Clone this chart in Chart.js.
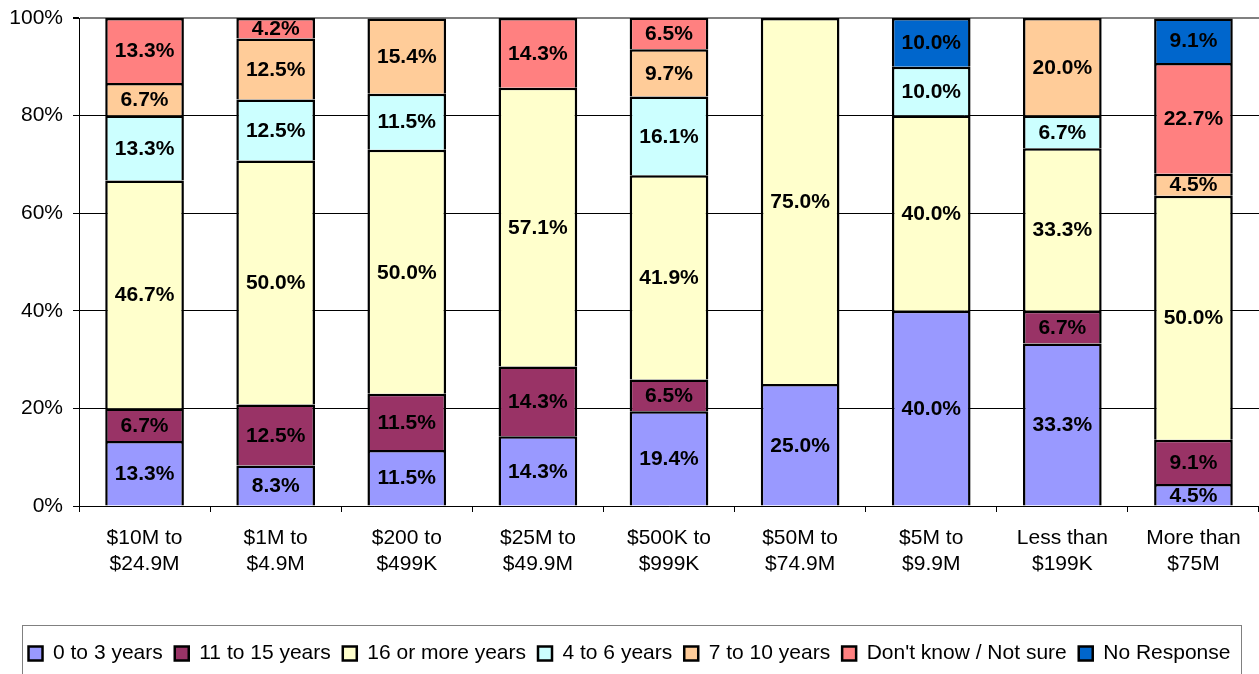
<!DOCTYPE html>
<html>
<head>
<meta charset="utf-8">
<script src="https://cdn.jsdelivr.net/npm/chart.js@4.4.0/dist/chart.umd.min.js"></script>
<style>
  body { margin: 0; background: #fff; }
  #wrap { width: 1259px; height: 674px; }
</style>
</head>
<body>
<div id="wrap"><canvas id="chart"></canvas></div>
<script>
const categories = [
    ['$10M to', '$24.9M'], ['$1M to', '$4.9M'], ['$200 to', '$499K'],
    ['$25M to', '$49.9M'], ['$500K to', '$999K'], ['$50M to', '$74.9M'],
    ['$5M to', '$9.9M'], ['Less than', '$199K'], ['More than', '$75M']
];

const years0to3   = [13.3, 8.3, 11.5, 14.3, 19.4, 25.0, 40.0, 33.3, 4.5];
const years11to15 = [6.7, 12.5, 11.5, 14.3, 6.5, 0, 0, 6.7, 9.1];
const years16plus = [46.7, 50.0, 50.0, 57.1, 41.9, 75.0, 40.0, 33.3, 50.0];
const years4to6   = [13.3, 12.5, 11.5, 0, 16.1, 0, 10.0, 6.7, 0];
const years7to10  = [6.7, 12.5, 15.4, 0, 9.7, 0, 0, 20.0, 4.5];
const notSure     = [13.3, 4.2, 0, 14.3, 6.5, 0, 0, 0, 22.7];
const noResponse  = [0, 0, 0, 0, 0, 0, 10.0, 0, 9.1];

const yTicks = [0, 20, 40, 60, 80, 100];

Chart.defaults.font.family = '"Liberation Sans", Arial, sans-serif';
Chart.defaults.color = '#000';

// подписи значений в центре каждого сегмента
const barLabels = {
    id: 'barLabels',
    afterDatasetsDraw(chart) {
        const ctx = chart.ctx;
        ctx.save();
        ctx.font = 'bold 21px "Liberation Sans", Arial, sans-serif';
        ctx.fillStyle = '#000';
        ctx.textAlign = 'center';
        ctx.textBaseline = 'middle';
        chart.data.datasets.forEach((ds, i) => {
            chart.getDatasetMeta(i).data.forEach((bar, j) => {
                const v = ds.data[j];
                if (!v) return;
                const p = bar.getProps(['x', 'y', 'base'], true);
                ctx.fillText(v.toFixed(1) + '%', p.x, (p.y + p.base) / 2 + 1);
            });
        });
        ctx.restore();
    }
};

// рамка вокруг легенды
const legendFrame = {
    id: 'legendFrame',
    afterDraw(chart) {
        const lg = chart.legend;
        const ctx = chart.ctx;
        ctx.save();
        ctx.strokeStyle = '#808080';
        ctx.lineWidth = 1;
        ctx.strokeRect(22.5, lg.top - 5.5, 1219, 90);
        ctx.restore();
    }
};

function series(label, data, color) {
    return {
        label: label,
        data: data,
        backgroundColor: color,
        borderColor: '#000',
        borderWidth: 2.5,
        categoryPercentage: 0.6,
        barPercentage: 1
    };
}

const ctx = document.getElementById('chart').getContext('2d');

window.statistics = new Chart(ctx, {
    type: 'bar',
    data: {
        labels: categories,
        datasets: [
            series('0 to 3 years', years0to3, '#9999FF'),
            series('11 to 15 years', years11to15, '#993366'),
            series('16 or more years', years16plus, '#FFFFCC'),
            series('4 to 6 years', years4to6, '#CCFFFF'),
            series('7 to 10 years', years7to10, '#FFCC99'),
            series("Don't know / Not sure", notSure, '#FF8080'),
            series('No Response', noResponse, '#0066CC')
        ]
    },
    options: {
        responsive: true,
        maintainAspectRatio: false,
        animation: false,
        layout: { padding: { top: 18, right: 0, bottom: 0, left: 0 } },
        plugins: {
            tooltip: { enabled: false },
            legend: {
                position: 'bottom',
                labels: {
                    boxWidth: 14,
                    boxHeight: 14,
                    padding: 12,
                    color: '#000',
                    font: { size: 21 }
                }
            }
        },
        scales: {
            x: {
                stacked: true,
                afterFit: (scale) => { scale.height = 125; },
                grid: {
                    drawOnChartArea: false,
                    color: '#000',
                    tickLength: 6,
                    offset: true
                },
                border: { color: '#000', width: 1 },
                ticks: {
                    color: '#000',
                    padding: 14,
                    maxRotation: 0,
                    autoSkip: false,
                    font: { size: 21 }
                }
            },
            y: {
                stacked: true,
                min: 0,
                max: 100,
                afterFit: (scale) => {
                    scale.width = 79;
                    scale.paddingTop = 0;
                    scale.paddingBottom = 0;
                },
                afterBuildTicks: (scale) => {
                    scale.ticks = yTicks.map(v => ({ value: v }));
                },
                grid: {
                    color: (c) => c.tick && c.tick.value === 100 ? '#808080' : '#000',
                    lineWidth: (c) => c.tick && c.tick.value === 100 ? 2 : 1,
                    tickColor: '#000',
                    tickLength: 6
                },
                border: { color: '#000', width: 1 },
                ticks: {
                    color: '#000',
                    padding: 10,
                    font: { size: 21 },
                    callback: (v) => v + '%'
                }
            }
        }
    },
    plugins: [barLabels, legendFrame]
});
</script>
</body>
</html>
